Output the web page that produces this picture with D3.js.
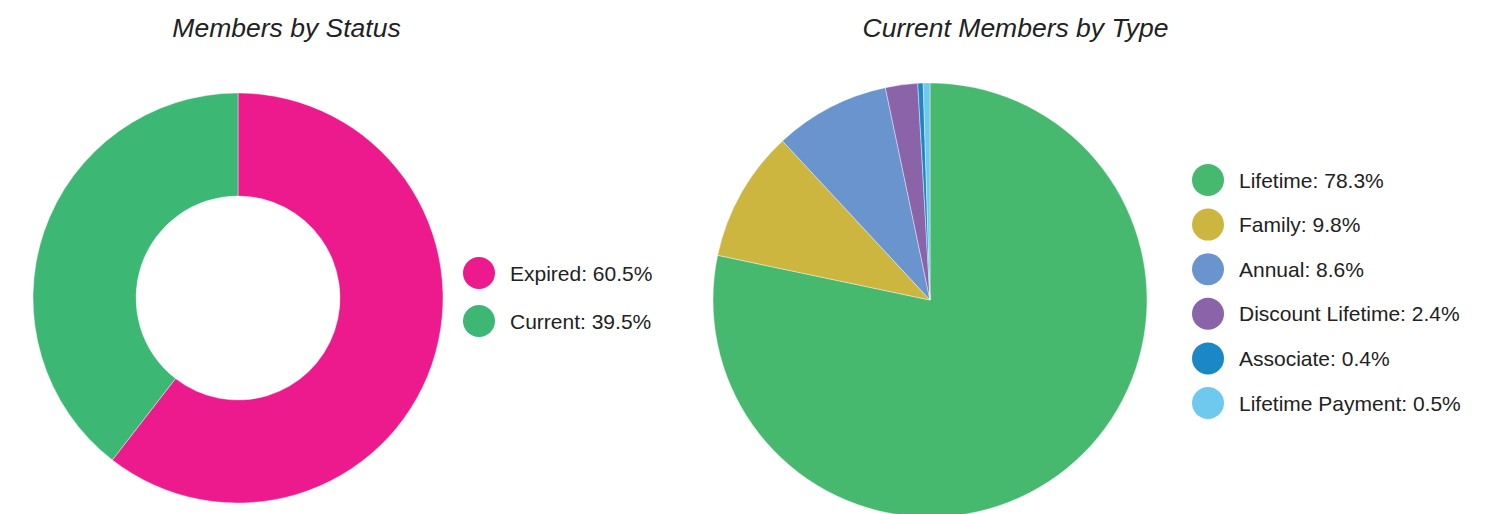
<!doctype html>
<html>
<head>
<meta charset="utf-8"/>
<title>Members</title>
<script src="https://cdnjs.cloudflare.com/ajax/libs/d3/7.8.5/d3.min.js"></script>
<style>
  body { margin: 0; background: #fff; }
  text { font-family: "Liberation Sans", Arial, sans-serif; fill: #222; }
</style>
</head>
<body>
<svg id="chart" width="1492" height="514"></svg>
<script>
// members by status
var statusNames = ["Expired", "Current"];
var statusValues = [60.5, 39.5];
var statusColors = ["#ec1a8c", "#3cb874"];

// current members by type
var typeNames = ["Lifetime", "Family", "Annual", "Discount Lifetime", "Associate", "Lifetime Payment"];
var typeValues = [78.3, 9.8, 8.6, 2.4, 0.4, 0.5];
var typeColors = ["#46b96f", "#cdb63f", "#6a94ce", "#8b63a8", "#1b87c4", "#6fc8ee"];

var svg = d3.select("#chart");

function drawPie(opts) {
  var g = svg.append("g").attr("transform", "translate(" + opts.cx + "," + opts.cy + ")");
  var pie = d3.pie().sort(null).value(function (d) { return d; });
  var arc = d3.arc().innerRadius(opts.inner).outerRadius(opts.outer);
  g.selectAll("path")
    .data(pie(opts.values))
    .enter().append("path")
    .attr("d", arc)
    .attr("fill", function (d, i) { return opts.colors[i]; })
    .attr("stroke", "#fff")
    .attr("stroke-width", 0.4);

  svg.append("text")
    .attr("x", opts.titleX).attr("y", 37)
    .attr("text-anchor", "middle")
    .style("font-size", "26.5px")
    .style("font-style", "italic")
    .text(opts.title);

  var ly = d3.scaleLinear().domain([0, 1]).range([opts.legendY, opts.legendY + opts.legendStep]);
  var leg = svg.append("g").selectAll("g")
    .data(opts.names)
    .enter().append("g")
    .attr("transform", function (d, i) { return "translate(" + opts.legendX + "," + ly(i) + ")"; });
  leg.append("circle").attr("r", 16)
    .attr("fill", function (d, i) { return opts.colors[i]; });
  leg.append("text")
    .attr("x", 31).attr("y", 7.5)
    .style("font-size", "21px")
    .text(function (d, i) { return d + ": " + opts.values[i] + "%"; });
}

drawPie({
  cx: 238, cy: 298, inner: 102, outer: 205,
  values: statusValues, colors: statusColors, names: statusNames,
  title: "Members by Status", titleX: 286.5,
  legendX: 479, legendY: 273, legendStep: 48
});

drawPie({
  cx: 930, cy: 300, inner: 0, outer: 217,
  values: typeValues, colors: typeColors, names: typeNames,
  title: "Current Members by Type", titleX: 1015.5,
  legendX: 1208, legendY: 180, legendStep: 44.6
});
</script>
</body>
</html>
